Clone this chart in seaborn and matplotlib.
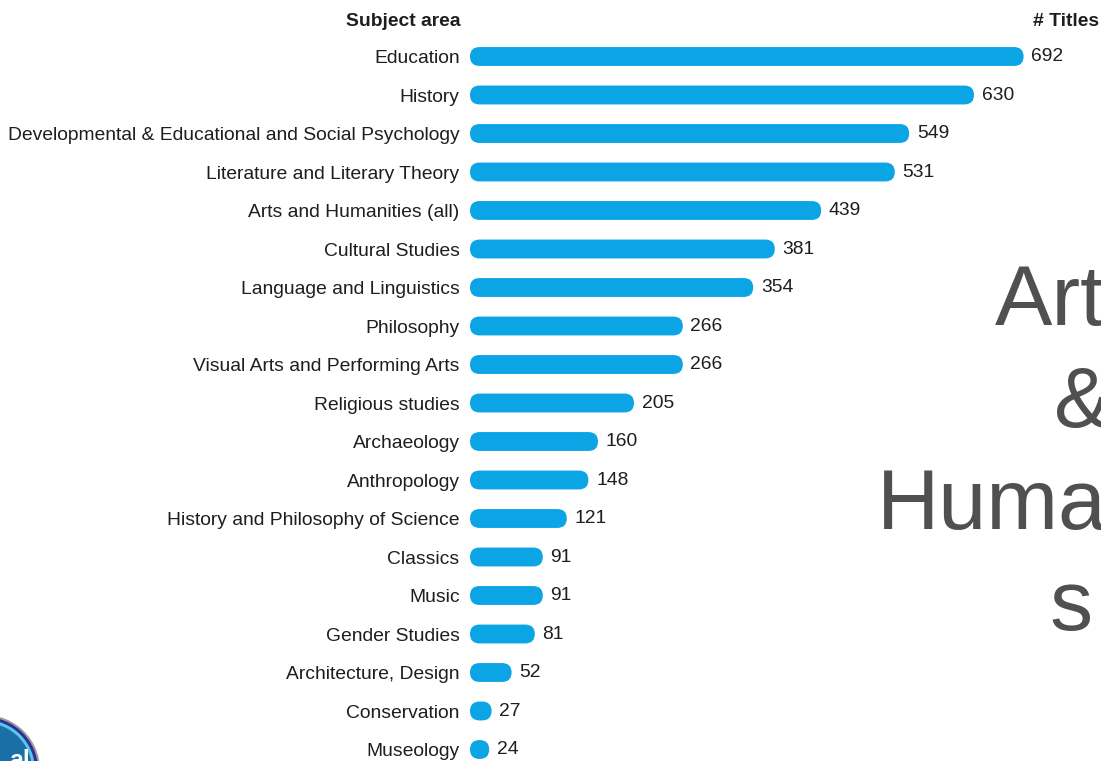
import matplotlib
matplotlib.use("Agg")
import matplotlib.pyplot as plt
import seaborn as sns
import pandas as pd
from matplotlib.patches import FancyBboxPatch, Circle

# data
subjects = [
    "Education",
    "History",
    "Developmental & Educational and Social Psychology",
    "Literature and Literary Theory",
    "Arts and Humanities (all)",
    "Cultural Studies",
    "Language and Linguistics",
    "Philosophy",
    "Visual Arts and Performing Arts",
    "Religious studies",
    "Archaeology",
    "Anthropology",
    "History and Philosophy of Science",
    "Classics",
    "Music",
    "Gender Studies",
    "Architecture, Design",
    "Conservation",
    "Museology",
]
titles = [692, 630, 549, 531, 439, 381, 354, 266, 266, 205,
          160, 148, 121, 91, 91, 81, 52, 27, 24]

df = pd.DataFrame({"Subject": subjects, "Titles": titles})

sns.set_theme(style="white")
plt.rcParams["font.family"] = ["Liberation Sans", "DejaVu Sans"]

W, H = 1101, 761
fig = plt.figure(figsize=(W / 100, H / 100), dpi=100)
fig.patch.set_facecolor("white")

# axes placed in pixel terms: value 0 at x=470, 0.8 px per title, rows 38.5 px apart
left_px = 470
px_per_unit = 0.8
row_px = 38.5
first_row_px = 56.5
top_px = first_row_px - row_px / 2
bottom_px = first_row_px + (len(subjects) - 0.5) * row_px
ax = fig.add_axes([left_px / W, (H - bottom_px) / H,
                   (W - left_px) / W, (bottom_px - top_px) / H])

bar_color = "#0ba5e6"
txt_size = 13.9
sns.barplot(data=df, x="Titles", y="Subject", color=bar_color,
            width=0.49, orient="h", ax=ax, saturation=1)

ax.set_xlim(0, (W - left_px) / px_per_unit)
ax.set_ylim(len(subjects) - 0.5, -0.5)
for s in ax.spines.values():
    s.set_visible(False)
ax.set_xticks([])
ax.set_xlabel("")
ax.set_ylabel("")
ax.tick_params(axis="y", length=0, pad=7.5, labelsize=txt_size, labelcolor="#1e1e1e")
ax.set_facecolor("white")

# value labels
ax.bar_label(ax.containers[0], labels=[str(v) for v in titles], padding=5.5,
             fontsize=txt_size, color="#1e1e1e")

# replace square bars with rounded ones
p0 = ax.transData.transform((0, 0))
p1 = ax.transData.transform((1, 1))
x_per_px = 1 / abs(p1[0] - p0[0])
y_per_px = 1 / abs(p1[1] - p0[1])
for patch in list(ax.patches):
    x, y = patch.get_x(), patch.get_y()
    w, h = patch.get_width(), patch.get_height()
    r_px = h / y_per_px / 2
    rounded = FancyBboxPatch((x, y), w, h,
                             boxstyle=f"round,pad=0,rounding_size={r_px * x_per_px}",
                             mutation_aspect=y_per_px / x_per_px,
                             facecolor=bar_color, edgecolor="none")
    ax.add_patch(rounded)
    patch.set_visible(False)

# column headers
fig.text(460 / W, 1 - 21 / H, "Subject area", ha="right", va="center",
         fontsize=txt_size, fontweight="bold", color="#1e1e1e")
fig.text(1033 / W, 1 - 21 / H, "# Titles", ha="left", va="center",
         fontsize=txt_size, fontweight="bold", color="#1e1e1e")

# large slide title, cut off by the right edge as in the slide
big = dict(fontsize=62, color="#505050", va="baseline", ha="center")
fig.text(1071 / W, 1 - 325 / H, "Arts", **big)
fig.text(1083 / W, 1 - 427 / H, "&", **big)
fig.text(1071 / W, 1 - 529 / H, "Humanitie", **big)
fig.text(1071 / W, 1 - 630 / H, "s", **big)

# partial logo at bottom left
cx, cy = -15 / 100, (H - 770) / 100
for r, c in [(55, "#9a9aa2"), (53, "#2e3192"), (50, "#5cc6ea"), (47, "#1b6fa8")]:
    fig.add_artist(Circle((cx, cy), r / 100, transform=fig.dpi_scale_trans,
                          facecolor=c, edgecolor="none"))
fig.text(30 / W, 1 - 768 / H, "al", ha="right", va="baseline",
         fontsize=18, fontweight="bold", color="white")

fig.savefig("out.png", dpi=100)
